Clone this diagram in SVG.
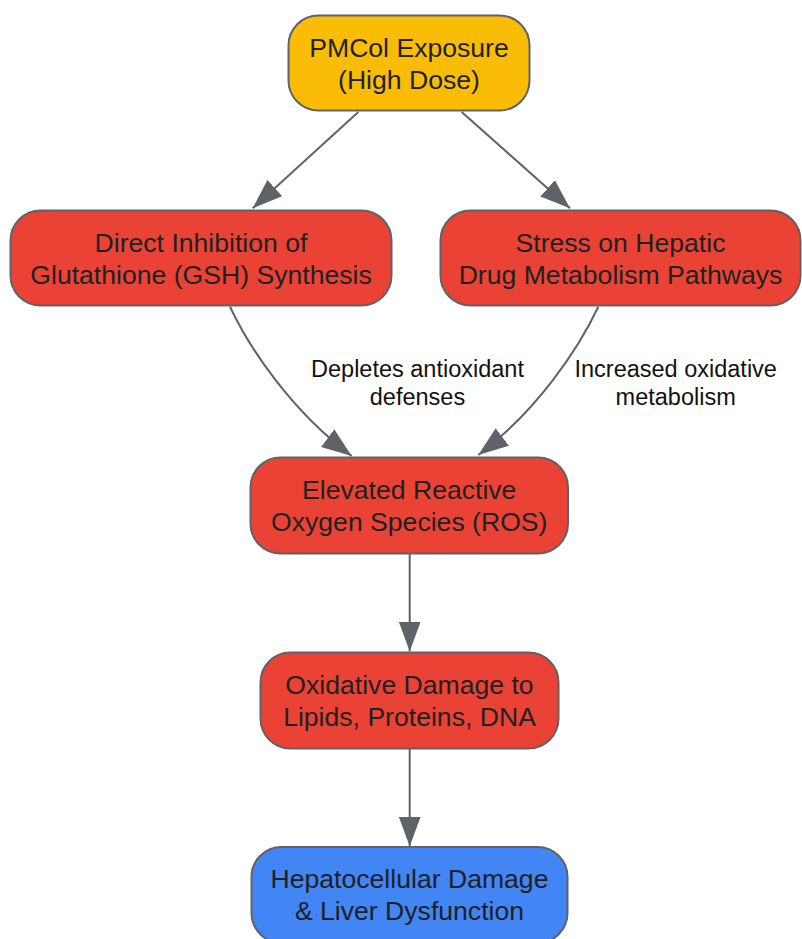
<svg xmlns="http://www.w3.org/2000/svg" width="802" height="939" viewBox="0 0 802 939">
  <style>
    .node rect { stroke: #5f6368; stroke-width: 2; }
    .yellow { fill: #fbbc05; }
    .red { fill: #ea4335; }
    .blue { fill: #4285f4; }
    .node text { font-family: "Liberation Sans", Arial, sans-serif; font-size: 26.6px; fill: #202124; text-anchor: middle; }
    .edge { fill: none; stroke: #5f6368; stroke-width: 2; }
    .elabel { font-family: "Liberation Sans", Arial, sans-serif; font-size: 23.5px; fill: #111111; text-anchor: middle; }
  </style>
  <defs>
    <marker id="arrow" markerUnits="userSpaceOnUse" markerWidth="30" markerHeight="22" refX="30" refY="11" orient="auto" viewBox="0 0 30 22">
      <path d="M0,0 L30,11 L0,22 z" fill="#5f6368"/>
    </marker>
  </defs>
  <rect width="802" height="939" fill="#ffffff"/>

  <g id="connectors">
    <path class="edge" d="M358.3,112 L252.7,208.3" marker-end="url(#arrow)"/>
    <path class="edge" d="M461.7,112 L570,208.3" marker-end="url(#arrow)"/>
    <path class="edge" d="M230,306.7 C249.3,347.7 290.8,410.6 351.7,456" marker-end="url(#arrow)"/>
    <path class="edge" d="M598.3,306.7 C579,347.7 537.5,410.6 478.3,455" marker-end="url(#arrow)"/>
    <path class="edge" d="M409.7,554 L409.7,651.5" marker-end="url(#arrow)"/>
    <path class="edge" d="M409.7,749 L409.7,846.5" marker-end="url(#arrow)"/>
    <text class="elabel" x="417.5" y="376.7">Depletes antioxidant</text>
    <text class="elabel" x="417.5" y="405">defenses</text>
    <text class="elabel" x="675.7" y="376.7">Increased oxidative</text>
    <text class="elabel" x="675.7" y="405">metabolism</text>
  </g>

  <g id="n1" class="node">
    <rect class="yellow" x="288.5" y="15.5" width="241" height="95" rx="30" ry="30"/>
    <text x="409" y="56.8">PMCol Exposure</text>
    <text x="409" y="88.5">(High Dose)</text>
  </g>
  <g id="n2" class="node">
    <rect class="red" x="10.5" y="210.5" width="381" height="95" rx="30" ry="30"/>
    <text x="201" y="251.8">Direct Inhibition of</text>
    <text x="201" y="283.5">Glutathione (GSH) Synthesis</text>
  </g>
  <g id="n3" class="node">
    <rect class="red" x="440.5" y="210.5" width="360" height="95" rx="30" ry="30"/>
    <text x="620.5" y="251.8">Stress on Hepatic</text>
    <text x="620.5" y="283.5">Drug Metabolism Pathways</text>
  </g>
  <g id="n4" class="node">
    <rect class="red" x="250.5" y="457.5" width="317.5" height="96" rx="30" ry="30"/>
    <text x="409.25" y="499.3">Elevated Reactive</text>
    <text x="409.25" y="531">Oxygen Species (ROS)</text>
  </g>
  <g id="n5" class="node">
    <rect class="red" x="260.5" y="652.5" width="298" height="96" rx="30" ry="30"/>
    <text x="409.5" y="694.3">Oxidative Damage to</text>
    <text x="409.5" y="726">Lipids, Proteins, DNA</text>
  </g>
  <g id="n6" class="node">
    <rect class="blue" x="251.5" y="847" width="316" height="96" rx="30" ry="30"/>
    <text x="409.5" y="888.3">Hepatocellular Damage</text>
    <text x="409.5" y="920">&amp; Liver Dysfunction</text>
  </g>
</svg>
